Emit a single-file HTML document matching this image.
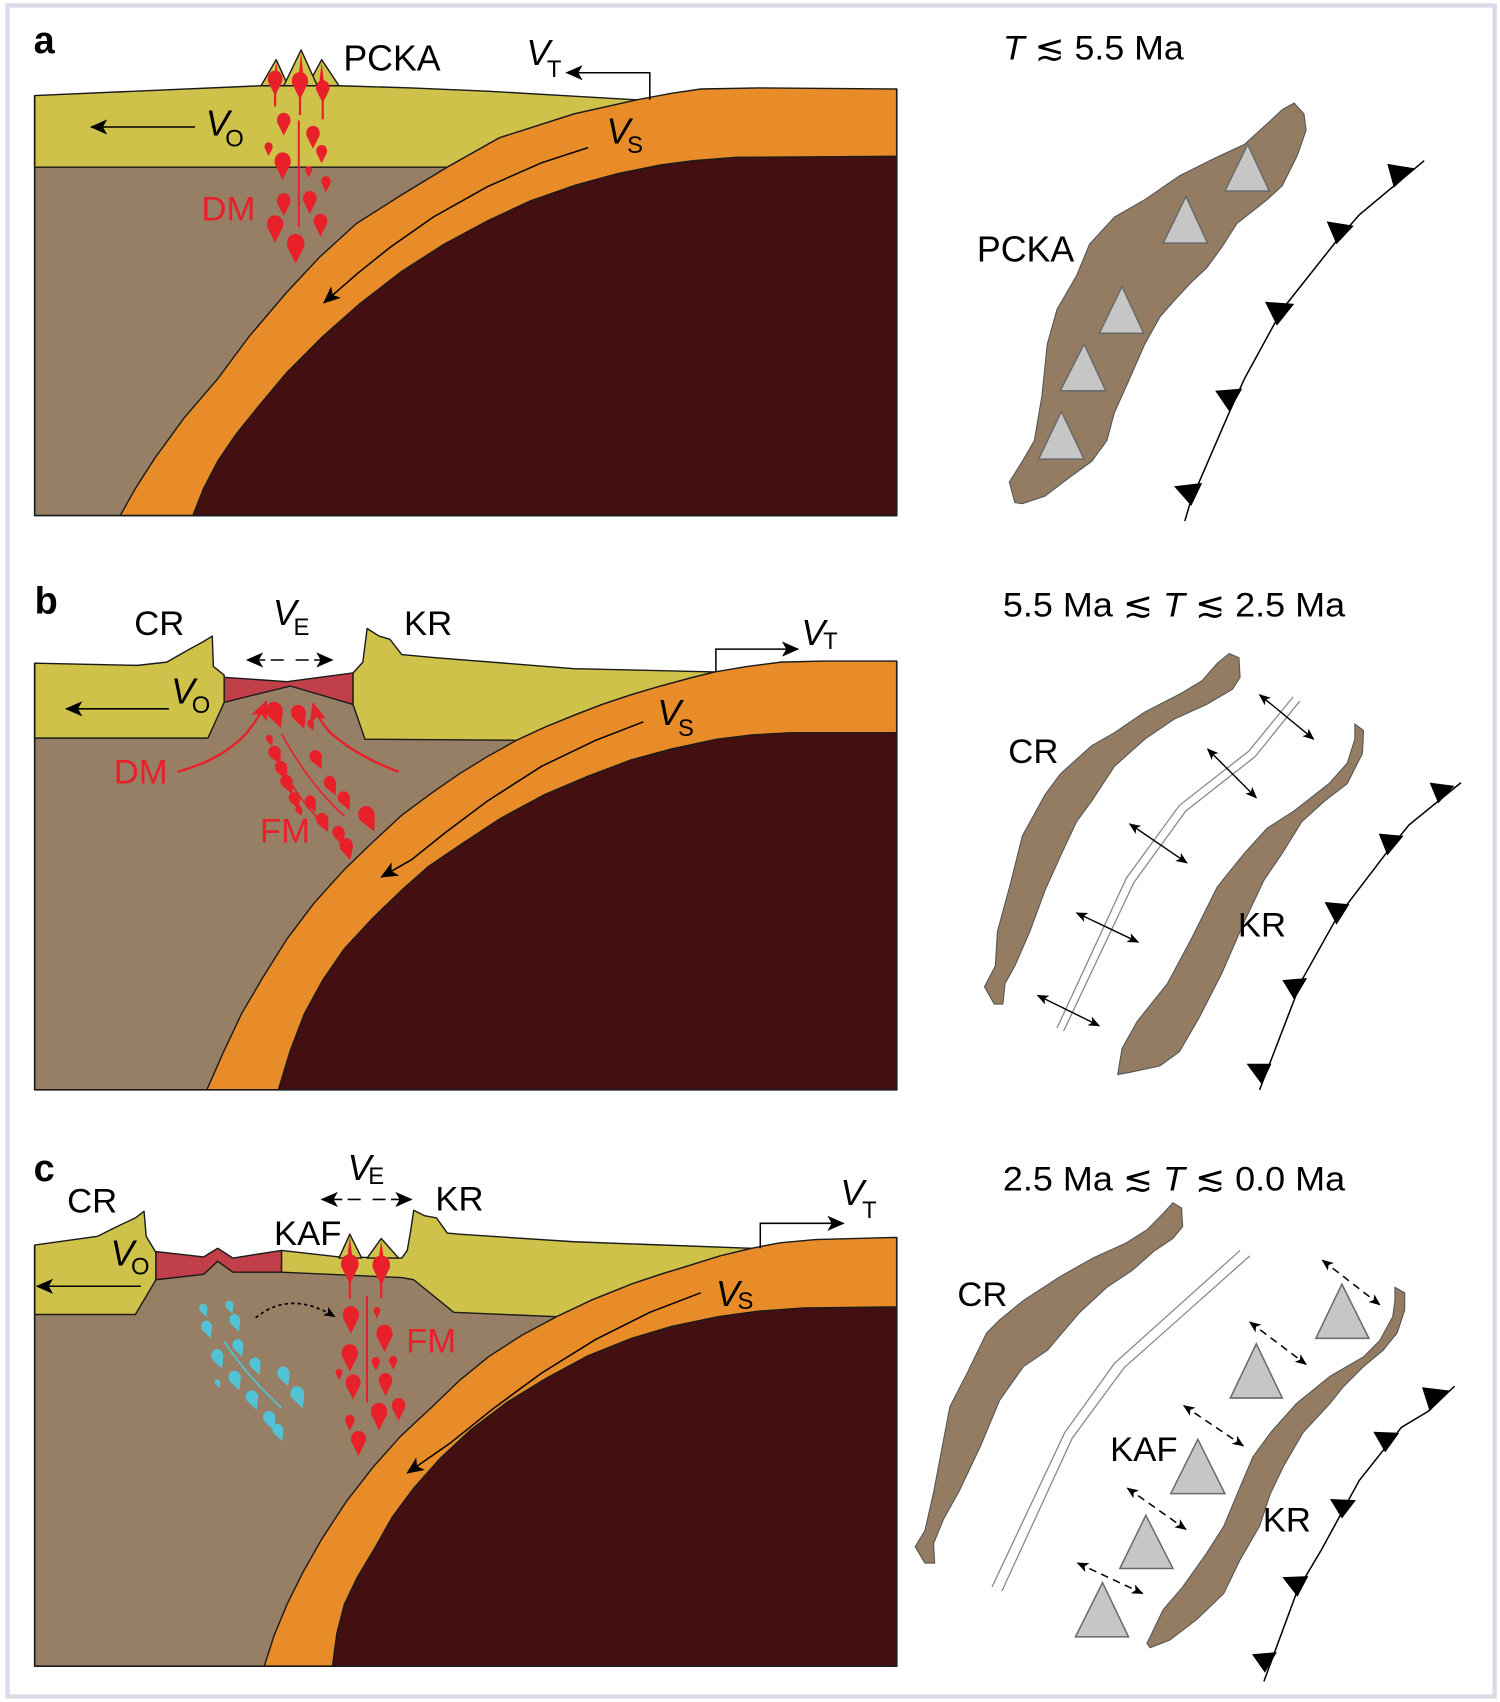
<!DOCTYPE html>
<html><head><meta charset="utf-8"><style>
html,body{margin:0;padding:0;background:#fff;}
svg{display:block;}
text{font-family:"Liberation Sans","DejaVu Sans",Arial,sans-serif;}
</style></head><body>
<svg width="1500" height="1702" viewBox="0 0 1385 1568" preserveAspectRatio="none" xmlns="http://www.w3.org/2000/svg">
<defs>
<marker id="ah" viewBox="0 0 16 14" refX="15" refY="7" markerWidth="16" markerHeight="14" markerUnits="userSpaceOnUse" orient="auto-start-reverse"><path d="M0,0 L16,7 L0,14 L4,7Z" fill="#000"/></marker>
<marker id="sh" viewBox="0 0 12 10" refX="11" refY="5" markerWidth="11" markerHeight="9" markerUnits="userSpaceOnUse" orient="auto-start-reverse"><path d="M0,0 L12,5 L0,10 L3,5Z" fill="#000"/></marker>
<marker id="rh" viewBox="0 0 18 16" refX="17" refY="8" markerWidth="18" markerHeight="16" markerUnits="userSpaceOnUse" orient="auto"><path d="M0,0 L18,8 L0,16 L4,8Z" fill="#e8202a"/></marker>
<path id="dr" d="M0,-8 C5,-8 7,-3 6,1 L0,13 L-6,1 C-7,-3 -5,-8 0,-8Z"/>
</defs>
<rect x="0" y="0" width="1385" height="1568" fill="#fff"/>
<rect x="7" y="5" width="1373" height="1558" fill="#fff" stroke="#dadae8" stroke-width="4"/>

<!-- ================= PANEL A ================= -->
<g stroke="#1a1a1a" stroke-width="1.3" stroke-linejoin="round">
<rect x="32" y="150" width="796" height="325" fill="#977f65" stroke="none"/>
<polygon fill="#cec24a" points="32,88 241,79 313,79 380,81 450,84 520,88 588,92 530,105 461,127 413,154 32,154"/>
<polygon fill="#e88c29" points="111,475 125,450 143,422 170,385 201,349 230,310 265,269 295,237 329,206 370,180 413,154 461,127 530,105 588,92 620,86 647,82 700,81 828,82 828,475"/>
<polygon fill="#440f10" points="178,475 188,450 201,425 218,400 239,374 265,343 297,311 332,280 371,250 410,225 451,203 490,185 530,171 570,160 610,152 640,148 678,145 828,144 828,475"/>
<path d="M32,88 L32,475 L828,475 L828,82" fill="none" stroke-width="1.5"/>
<polygon fill="#cec24a" points="241,79 255,55 266,79"/>
<polygon fill="#cec24a" points="284,79 297,55 313,79"/>
<polygon fill="#cec24a" points="262,79 278,46 293,79"/>
</g>
<g fill="#e8202a">
<polygon points="255,57 252,78 258,78"/><polygon points="278,48 275,80 281,80"/><polygon points="297,57 294,84 300,84"/>
<rect x="253" y="76" width="2" height="22"/><rect x="276" y="80" width="2" height="26"/><rect x="297" y="86" width="2" height="24"/>
<rect x="275" y="111" width="1.8" height="98"/>
<use href="#dr" transform="translate(254,74) scale(1.1)"/>
<use href="#dr" transform="translate(277,76) scale(1.2)"/>
<use href="#dr" transform="translate(298,82) scale(1.0)"/>
<use href="#dr" transform="translate(262,112) scale(1.0)"/>
<use href="#dr" transform="translate(289,124) scale(1.0)"/>
<use href="#dr" transform="translate(248,136) scale(0.6)"/>
<use href="#dr" transform="translate(261,150) scale(1.2)"/>
<use href="#dr" transform="translate(297,140) scale(0.8)"/>
<use href="#dr" transform="translate(285,157) scale(0.5)"/>
<use href="#dr" transform="translate(301,168) scale(0.7)"/>
<use href="#dr" transform="translate(262,186) scale(1.0)"/>
<use href="#dr" transform="translate(286,184) scale(1.0)"/>
<use href="#dr" transform="translate(254,208) scale(1.2)"/>
<use href="#dr" transform="translate(296,205) scale(1.0)"/>
<use href="#dr" transform="translate(273,226) scale(1.3)"/>
</g>
<g fill="none" stroke="#000" stroke-width="1.4">
<line x1="180" y1="117" x2="84" y2="117" marker-end="url(#ah)"/>
<polyline points="600,92 600,67 523,67" marker-end="url(#ah)"/>
<polyline points="543,136 500,150 450,172 400,200 360,228 330,252 299,279" marker-end="url(#ah)"/>
</g>
<text x="31" y="49" font-size="35" font-weight="bold">a</text>
<text x="317" y="65" font-size="33">PCKA</text>
<text x="486" y="60" font-size="33" font-style="italic">V</text><text x="505" y="71" font-size="22">T</text>
<text x="190" y="125" font-size="33" font-style="italic">V</text><text x="208" y="135" font-size="22">O</text>
<text x="560" y="132" font-size="33" font-style="italic">V</text><text x="579" y="141" font-size="22">S</text>
<text x="186" y="203" font-size="32" fill="#e8202a">DM</text>

<!-- map a -->
<text x="926" y="55" font-size="32" textLength="167" lengthAdjust="spacingAndGlyphs"><tspan font-style="italic">T</tspan> ≲ 5.5 Ma</text>
<polygon fill="#937c62" stroke="#555" stroke-width="1" points="1195,95 1204,105 1206,120 1198,143 1184,171 1170,184 1142,206 1128,228 1114,247 1100,260 1085,276 1071,292 1057,317 1043,349 1029,380 1022,406 1008,425 986,441 965,457 944,464 937,463 932,444 944,425 955,406 962,365 967,317 976,285 994,254 1006,225 1029,200 1057,184 1089,162 1121,146 1149,133 1170,114 1184,101"/>
<g fill="#c6c6c6" stroke="#6a6a6a" stroke-width="1.4">
<polygon points="1152,133 1172,176 1131,176"/>
<polygon points="1095,181 1115,224 1074,224"/>
<polygon points="1036,264 1056,307 1015,307"/>
<polygon points="1001,317 1021,360 979,360"/>
<polygon points="980,379 1001,423 959,423"/>
</g>
<text x="902" y="241" font-size="33">PCKA</text>
<polyline fill="none" stroke="#000" stroke-width="1.4" points="1315,148 1255,198 1234,222 1184,285 1149,349 1135,380 1099,463 1094,480"/>
<g fill="#000">
<polygon points="1281,151 1306,155 1287,173"/>
<polygon points="1225,204 1250,208 1234,225"/>
<polygon points="1168,278 1195,280 1179,300"/>
<polygon points="1122,360 1147,358 1135,379"/>
<polygon points="1084,448 1110,445 1100,466"/>
</g>

<!-- ================= PANEL B ================= -->
<g stroke="#1a1a1a" stroke-width="1.3" stroke-linejoin="round">
<polygon fill="#977f65" stroke="none" points="32,680 192,680 207,647 268,632 326,649 337,681 828,681 828,1004 32,1004"/>
<polygon fill="#cec24a" points="32,611 127,613 154,610 175,598 188,591 196,586 197,614 207,622 207,647 192,680 32,680"/>
<polygon fill="#c13f48" points="207,624 265,628 326,620 326,649 268,632 207,647"/>
<polygon fill="#cec24a" points="326,620 335,610 339,579 350,586 360,589 371,603 403,606 530,616 660,619 636,625 610,632 583,640 556,649 530,659 503,670 477,682 337,681 326,649"/>
<polygon fill="#e88c29" points="191,1004 206,970 223,934 243,900 265,865 290,832 318,801 345,775 371,751 398,731 424,713 450,697 477,682 503,670 530,659 556,649 583,640 610,632 636,625 660,619 690,614 721,610 760,609 828,609 828,1004"/>
<polygon fill="#440f10" points="257,1004 268,968 281,934 298,903 318,874 344,846 371,820 396,798 424,779 462,754 503,732 543,715 583,700 620,690 662,681 695,677 731,675 828,675 828,1004"/>
<path d="M32,611 L32,1004 L828,1004 L828,609" fill="none" stroke-width="1.5"/>
</g>
<g fill="none" stroke="#e8202a" stroke-width="2.2">
<path d="M164,711 Q205,700 228,675 Q240,660 246,646" marker-end="url(#rh)"/>
<path d="M368,711 Q330,697 305,675 Q293,662 289,648" marker-end="url(#rh)"/>
</g>
<g fill="none" stroke="#e8202a" stroke-width="1.5">
<path d="M260,676 Q285,722 318,752"/>
<path d="M252,690 Q272,735 302,762"/>
</g>
<g fill="#e8202a">
<use href="#dr" transform="translate(254,656) rotate(-20) scale(1.2)"/>
<use href="#dr" transform="translate(276,658) rotate(-20) scale(1.1)"/>
<use href="#dr" transform="translate(287,667) rotate(-20) scale(0.5)"/>
<use href="#dr" transform="translate(249,681) rotate(-20) scale(0.5)"/>
<use href="#dr" transform="translate(254,694) rotate(-25) scale(0.9)"/>
<use href="#dr" transform="translate(260,708) rotate(-25) scale(0.9)"/>
<use href="#dr" transform="translate(292,698) rotate(-25) scale(0.9)"/>
<use href="#dr" transform="translate(265,721) rotate(-25) scale(0.9)"/>
<use href="#dr" transform="translate(305,722) rotate(-25) scale(0.9)"/>
<use href="#dr" transform="translate(272,736) rotate(-25) scale(0.8)"/>
<use href="#dr" transform="translate(287,739) rotate(-25) scale(0.8)"/>
<use href="#dr" transform="translate(318,736) rotate(-25) scale(0.9)"/>
<use href="#dr" transform="translate(276,746) rotate(-25) scale(0.5)"/>
<use href="#dr" transform="translate(298,756) rotate(-25) scale(0.9)"/>
<use href="#dr" transform="translate(339,752) rotate(-25) scale(1.2)"/>
<use href="#dr" transform="translate(313,768) rotate(-20) scale(0.9)"/>
<use href="#dr" transform="translate(320,780) rotate(-15) scale(1.0)"/>
</g>
<g fill="none" stroke="#000" stroke-width="1.4">
<line x1="156" y1="653" x2="61" y2="653" marker-end="url(#ah)"/>
<polyline points="661,619 661,598 737,598" marker-end="url(#ah)"/>
<polyline points="594,665 550,682 500,706 450,738 410,768 380,792 352,808" marker-end="url(#ah)"/>
<line x1="262" y1="608" x2="228" y2="608" marker-end="url(#ah)" stroke-dasharray="12 5"/>
<line x1="273" y1="608" x2="307" y2="608" marker-end="url(#ah)" stroke-dasharray="12 5"/>
</g>
<text x="32" y="565" font-size="35" font-weight="bold">b</text>
<text x="124" y="585" font-size="32">CR</text>
<text x="373" y="585" font-size="32">KR</text>
<text x="252" y="576" font-size="33" font-style="italic">V</text><text x="271" y="585" font-size="22">E</text>
<text x="158" y="648" font-size="33" font-style="italic">V</text><text x="177" y="657" font-size="22">O</text>
<text x="740" y="594" font-size="33" font-style="italic">V</text><text x="760" y="598" font-size="22">T</text>
<text x="607" y="668" font-size="33" font-style="italic">V</text><text x="626" y="678" font-size="22">S</text>
<text x="105" y="722" font-size="32" fill="#e8202a">DM</text>
<text x="240" y="776" font-size="32" fill="#e8202a">FM</text>

<!-- map b -->
<text x="926" y="568" font-size="32" textLength="316" lengthAdjust="spacingAndGlyphs">5.5 Ma ≲ <tspan font-style="italic">T</tspan> ≲ 2.5 Ma</text>
<polygon fill="#937c62" stroke="#555" stroke-width="1" points="1135,602 1144,606 1145,624 1138,635 1114,649 1085,662 1057,681 1029,706 1008,738 994,757 979,789 965,820 951,858 937,890 928,906 926,925 918,925 909,909 919,890 921,858 933,814 944,770 965,732 979,713 1008,687 1029,675 1057,656 1092,638 1110,627 1124,611"/>
<polygon fill="#937c62" stroke="#555" stroke-width="1" points="1251,667 1259,673 1258,694 1244,722 1223,738 1202,757 1184,786 1167,811 1149,849 1128,897 1107,938 1089,969 1071,982 1043,988 1032,990 1036,966 1050,941 1078,906 1100,865 1124,817 1149,786 1170,763 1195,747 1227,722 1244,703 1251,681"/>
<g fill="none" stroke="#8a8a8a" stroke-width="1.2">
<polyline points="1194,642 1153,692 1089,742 1040,809 976,947"/>
<polyline points="1200,646 1159,697 1095,747 1047,813 982,950"/>
</g>
<g fill="none" stroke="#000" stroke-width="1.3" marker-start="url(#sh)" marker-end="url(#sh)">
<line x1="1163" y1="640" x2="1213" y2="681"/>
<line x1="1115" y1="690" x2="1160" y2="735"/>
<line x1="1043" y1="759" x2="1096" y2="795"/>
<line x1="994" y1="841" x2="1051" y2="868"/>
<line x1="958" y1="917" x2="1015" y2="945"/>
</g>
<text x="931" y="703" font-size="32">CR</text>
<text x="1143" y="863" font-size="32">KR</text>
<polyline fill="none" stroke="#000" stroke-width="1.4" points="1349,721 1301,760 1283,782 1234,846 1202,903 1163,1004"/>
<g fill="#000">
<polygon points="1320,721 1343,724 1328,740"/>
<polygon points="1273,768 1296,770 1281,788"/>
<polygon points="1223,831 1246,833 1234,852"/>
<polygon points="1184,903 1207,901 1195,921"/>
<polygon points="1151,980 1174,980 1165,999"/>
</g>

<!-- ================= PANEL C ================= -->
<g stroke="#1a1a1a" stroke-width="1.3" stroke-linejoin="round">
<polygon fill="#977f65" stroke="none" points="32,1211 125,1211 144,1179 188,1174 201,1162 215,1172 260,1172 371,1177 382,1179 419,1209 828,1213 828,1535 32,1535"/>
<polygon fill="#cec24a" points="32,1147 90,1139 106,1131 125,1122 133,1116 135,1139 144,1154 144,1179 125,1211 32,1211"/>
<polygon fill="#c13f48" points="144,1153 188,1158 201,1150 215,1159 260,1152 260,1172 215,1172 201,1162 188,1174 144,1179"/>
<polygon fill="#cec24a" points="260,1152 313,1158 371,1159 376,1152 379,1135 382,1115 392,1120 403,1122 413,1136 424,1137 530,1144 694,1150 665,1157 636,1166 610,1174 583,1183 548,1197 514,1213 419,1209 382,1179 371,1177 260,1172"/>
<polygon fill="#e88c29" points="244,1535 253,1507 265,1478 280,1448 297,1418 320,1383 345,1351 370,1323 398,1297 424,1272 451,1250 482,1230 514,1213 548,1197 583,1183 610,1174 636,1166 665,1157 694,1150 720,1145 753,1142 828,1140 828,1535"/>
<polygon fill="#440f10" points="307,1535 311,1505 318,1478 330,1453 345,1428 362,1398 382,1371 407,1343 435,1317 468,1292 504,1270 543,1249 583,1233 620,1222 663,1213 700,1208 742,1205 828,1204 828,1535"/>
<path d="M32,1147 L32,1535 L828,1535 L828,1140" fill="none" stroke-width="1.5"/>
<polygon fill="#cec24a" points="313,1159 323,1137 334,1159"/>
<polygon fill="#cec24a" points="339,1159 352,1141 368,1159"/>
</g>
<g fill="#e8202a">
<polygon points="323,1139 320,1164 326,1164"/><polygon points="352,1143 349,1164 355,1164"/>
<rect x="322" y="1168" width="2" height="28"/><rect x="351" y="1168" width="2" height="28"/>
<rect x="338" y="1194" width="1.8" height="98"/>
<use href="#dr" transform="translate(323,1166) scale(1.3)"/>
<use href="#dr" transform="translate(352,1167) scale(1.3)"/>
<use href="#dr" transform="translate(324,1213) scale(1.2)"/>
<use href="#dr" transform="translate(348,1208) scale(0.5)"/>
<use href="#dr" transform="translate(355,1230) scale(1.2)"/>
<use href="#dr" transform="translate(323,1248) scale(1.2)"/>
<use href="#dr" transform="translate(347,1255) scale(0.6)"/>
<use href="#dr" transform="translate(313,1265) scale(0.5)"/>
<use href="#dr" transform="translate(326,1275) scale(1.1)"/>
<use href="#dr" transform="translate(363,1254) scale(0.6)"/>
<use href="#dr" transform="translate(356,1273) scale(1.0)"/>
<use href="#dr" transform="translate(323,1309) scale(0.7)"/>
<use href="#dr" transform="translate(350,1302) scale(1.2)"/>
<use href="#dr" transform="translate(368,1296) scale(1.0)"/>
<use href="#dr" transform="translate(331,1327) scale(1.1)"/>
</g>
<path d="M207,1236 Q230,1270 260,1297" fill="none" stroke="#52c3d6" stroke-width="1.5"/>
<g fill="#52c3d6">
<use href="#dr" transform="translate(188,1206) rotate(-20) scale(0.6)"/>
<use href="#dr" transform="translate(212,1203) rotate(-20) scale(0.6)"/>
<use href="#dr" transform="translate(217,1217) rotate(-20) scale(0.8)"/>
<use href="#dr" transform="translate(191,1223) rotate(-20) scale(0.8)"/>
<use href="#dr" transform="translate(220,1240) rotate(-20) scale(0.8)"/>
<use href="#dr" transform="translate(201,1250) rotate(-20) scale(0.9)"/>
<use href="#dr" transform="translate(236,1257) rotate(-20) scale(0.8)"/>
<use href="#dr" transform="translate(262,1266) rotate(-20) scale(0.9)"/>
<use href="#dr" transform="translate(217,1270) rotate(-20) scale(0.9)"/>
<use href="#dr" transform="translate(201,1274) rotate(-20) scale(0.4)"/>
<use href="#dr" transform="translate(233,1288) rotate(-20) scale(0.9)"/>
<use href="#dr" transform="translate(275,1285) rotate(-20) scale(1.0)"/>
<use href="#dr" transform="translate(249,1307) rotate(-20) scale(0.9)"/>
<use href="#dr" transform="translate(257,1318) rotate(-20) scale(0.8)"/>
</g>
<g fill="none" stroke="#000" stroke-width="1.4">
<line x1="130" y1="1185" x2="34" y2="1185" marker-end="url(#ah)"/>
<polyline points="702,1150 702,1127 779,1127" marker-end="url(#ah)"/>
<polyline points="647,1191 600,1209 550,1234 500,1265 455,1298 415,1330 376,1357" marker-end="url(#ah)"/>
<line x1="333" y1="1105" x2="297" y2="1105" marker-end="url(#ah)" stroke-dasharray="12 5"/>
<line x1="344" y1="1105" x2="380" y2="1105" marker-end="url(#ah)" stroke-dasharray="12 5"/>
<path d="M236,1214 Q268,1188 309,1213" stroke-dasharray="3 3" stroke-width="1.6" marker-end="url(#sh)"/>
</g>
<text x="31" y="1088" font-size="35" font-weight="bold">c</text>
<text x="62" y="1117" font-size="32">CR</text>
<text x="402" y="1115" font-size="32">KR</text>
<text x="253" y="1147" font-size="32">KAF</text>
<text x="321" y="1087" font-size="33" font-style="italic">V</text><text x="340" y="1091" font-size="22">E</text>
<text x="102" y="1166" font-size="33" font-style="italic">V</text><text x="121" y="1174" font-size="22">O</text>
<text x="776" y="1110" font-size="33" font-style="italic">V</text><text x="796" y="1122" font-size="22">T</text>
<text x="661" y="1203" font-size="33" font-style="italic">V</text><text x="681" y="1206" font-size="22">S</text>
<text x="375" y="1246" font-size="32" fill="#e8202a">FM</text>

<!-- map c -->
<text x="926" y="1097" font-size="32" textLength="316" lengthAdjust="spacingAndGlyphs">2.5 Ma ≲ <tspan font-style="italic">T</tspan> ≲ 0.0 Ma</text>
<polygon fill="#937c62" stroke="#555" stroke-width="1" points="1083,1108 1091,1113 1092,1130 1083,1141 1065,1153 1046,1170 1022,1186 997,1209 967,1244 945,1259 923,1290 905,1333 886,1373 871,1400 862,1422 863,1440 854,1440 845,1425 854,1410 862,1375 877,1296 893,1265 911,1228 923,1216 945,1198 979,1176 1009,1159 1040,1145 1059,1133 1074,1118"/>
<polygon fill="#937c62" stroke="#555" stroke-width="1" points="1288,1186 1297,1191 1297,1207 1290,1228 1277,1244 1259,1259 1240,1278 1228,1293 1203,1320 1185,1351 1173,1376 1163,1406 1145,1437 1130,1468 1105,1492 1080,1511 1062,1518 1059,1514 1074,1483 1092,1462 1114,1431 1130,1406 1145,1370 1157,1342 1173,1320 1197,1293 1228,1268 1259,1250 1274,1235 1286,1213 1288,1198"/>
<g fill="none" stroke="#8a8a8a" stroke-width="1.2">
<polyline points="1145,1152 1029,1256 983,1320 916,1462"/>
<polyline points="1154,1157 1038,1260 990,1325 925,1466"/>
</g>
<g fill="#c6c6c6" stroke="#6a6a6a" stroke-width="1.4">
<polygon points="1239,1183 1264,1233 1215,1233"/>
<polygon points="1160,1238 1184,1288 1136,1288"/>
<polygon points="1106,1326 1131,1376 1081,1376"/>
<polygon points="1058,1396 1083,1445 1034,1445"/>
<polygon points="1018,1458 1042,1508 993,1508"/>
</g>
<g fill="none" stroke="#000" stroke-width="1.4" stroke-dasharray="7 5" marker-start="url(#sh)" marker-end="url(#sh)">
<line x1="1221" y1="1161" x2="1274" y2="1202"/>
<line x1="1154" y1="1218" x2="1206" y2="1257"/>
<line x1="1093" y1="1295" x2="1148" y2="1332"/>
<line x1="1041" y1="1371" x2="1095" y2="1409"/>
<line x1="995" y1="1440" x2="1055" y2="1468"/>
</g>
<text x="884" y="1203" font-size="32">CR</text>
<text x="1025" y="1346" font-size="32">KAF</text>
<text x="1166" y="1411" font-size="32">KR</text>
<polyline fill="none" stroke="#000" stroke-width="1.4" points="1343,1277 1319,1300 1294,1315 1255,1364 1220,1428 1198,1465 1167,1549"/>
<g fill="#000">
<polygon points="1313,1278 1338,1281 1320,1300"/>
<polygon points="1268,1319 1292,1320 1279,1338"/>
<polygon points="1228,1381 1252,1382 1239,1399"/>
<polygon points="1184,1453 1208,1452 1198,1471"/>
<polygon points="1156,1524 1179,1522 1168,1541"/>
</g>
</svg>
</body></html>
